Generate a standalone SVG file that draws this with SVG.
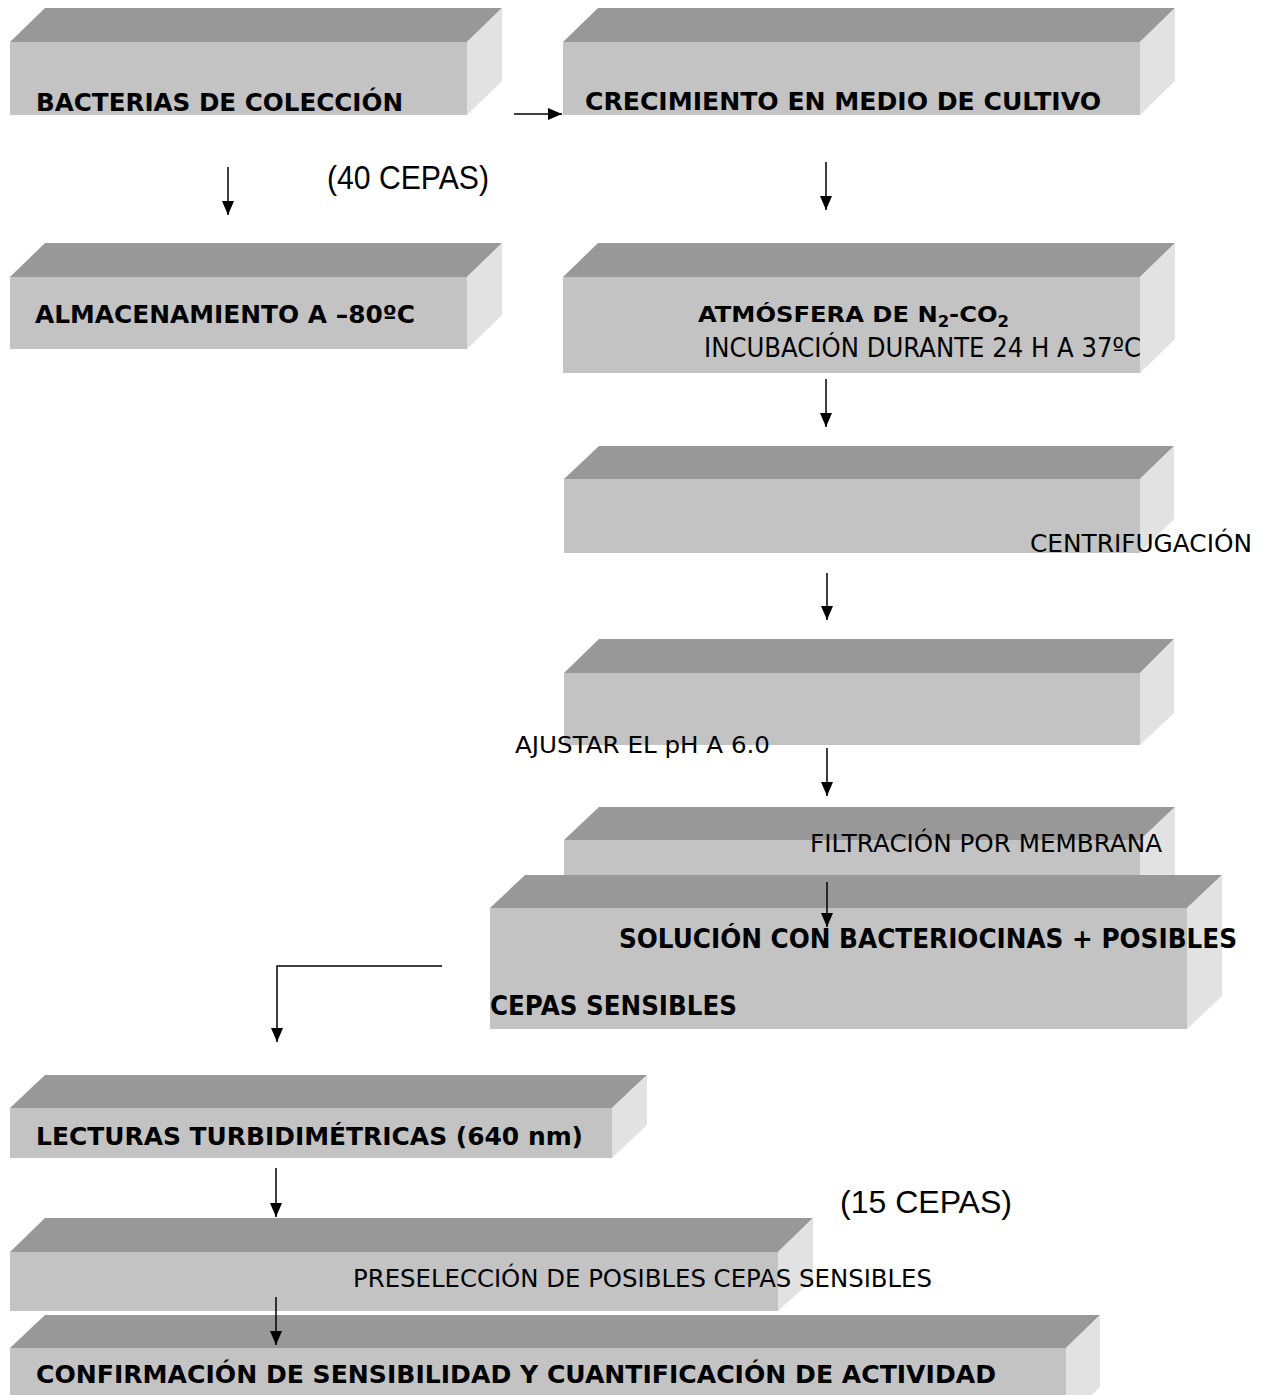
<svg xmlns="http://www.w3.org/2000/svg" width="1263" height="1395" viewBox="0 0 1263 1395">
<defs>
<style>
.top{fill:#989898}
.front{fill:#c3c3c3}
.side{fill:#e2e2e2}
.b{font-family:"DejaVu Sans","Liberation Sans",sans-serif;font-weight:bold;fill:#000}
.r{font-family:"DejaVu Sans","Liberation Sans",sans-serif;fill:#000}
.c{font-family:"Liberation Sans",Arial,sans-serif;fill:#000}
.ln{fill:none;stroke:#000;stroke-width:1.5}
</style>
<marker id="ah" viewBox="0 0 14 12" refX="14" refY="6" markerWidth="14" markerHeight="12" markerUnits="userSpaceOnUse" orient="auto">
<path d="M0,0 L14,6 L0,12 z" fill="#000"/>
</marker>
</defs>
<rect width="1263" height="1395" fill="#fff"/>

<g id="node-bacterias">
<polygon class="top" points="10,42 45,8 502,8 467,42"/>
<polygon class="front" points="10,42 467,42 467,115 10,115"/>
<polygon class="side" points="467,42 502,8 502,81 467,115"/>
<text class="b" x="36" y="111" font-size="24" textLength="367" lengthAdjust="spacingAndGlyphs">BACTERIAS DE COLECCIÓN</text>
</g>

<g id="node-crecimiento">
<polygon class="top" points="563,42 598,8 1175,8 1140,42"/>
<polygon class="front" points="563,42 1140,42 1140,115 563,115"/>
<polygon class="side" points="1140,42 1175,8 1175,81 1140,115"/>
<text class="b" x="585" y="110" font-size="24" textLength="516" lengthAdjust="spacingAndGlyphs">CRECIMIENTO EN MEDIO DE CULTIVO</text>
</g>

<g id="label-40">
<text class="c" x="327" y="189" font-size="34" textLength="162" lengthAdjust="spacingAndGlyphs">(40 CEPAS)</text>
</g>

<g id="node-almacenamiento">
<polygon class="top" points="10,277 45,243 502,243 467,277"/>
<polygon class="front" points="10,277 467,277 467,349 10,349"/>
<polygon class="side" points="467,277 502,243 502,315 467,349"/>
<text class="b" x="35" y="323" font-size="25" textLength="380" lengthAdjust="spacingAndGlyphs">ALMACENAMIENTO A –80ºC</text>
</g>

<g id="node-atmosfera">
<polygon class="top" points="563,277 598,243 1175,243 1140,277"/>
<polygon class="front" points="563,277 1140,277 1140,373 563,373"/>
<polygon class="side" points="1140,277 1175,243 1175,339 1140,373"/>
<text class="b" x="698" y="322" font-size="22" textLength="311" lengthAdjust="spacingAndGlyphs">ATMÓSFERA DE N<tspan font-size="15" dy="5">2</tspan><tspan dy="-5">-CO</tspan><tspan font-size="15" dy="5">2</tspan></text>
<text class="r" x="704" y="357" font-size="26" textLength="437" lengthAdjust="spacingAndGlyphs">INCUBACIÓN DURANTE 24 H A 37ºC</text>
</g>

<g id="node-centrifugacion">
<polygon class="top" points="564,479 599,446 1174,446 1140,479"/>
<polygon class="front" points="564,479 1140,479 1140,553 564,553"/>
<polygon class="side" points="1140,479 1174,446 1174,519 1140,553"/>
<text class="r" x="1030" y="552" font-size="24" textLength="222" lengthAdjust="spacingAndGlyphs">CENTRIFUGACIÓN</text>
</g>

<g id="node-ajustar">
<polygon class="top" points="564,673 599,639 1174,639 1140,673"/>
<polygon class="front" points="564,673 1140,673 1140,745 564,745"/>
<polygon class="side" points="1140,673 1174,639 1174,713 1140,745"/>
<text class="r" x="515" y="753" font-size="23" textLength="255" lengthAdjust="spacingAndGlyphs">AJUSTAR EL pH A 6.0</text>
</g>

<g id="node-filtracion">
<polygon class="top" points="564,840 599,807 1175,807 1140,840"/>
<polygon class="front" points="564,840 1140,840 1140,910 564,910"/>
<polygon class="side" points="1140,840 1175,807 1175,877 1140,910"/>
<text class="r" x="810" y="852" font-size="25" textLength="352" lengthAdjust="spacingAndGlyphs">FILTRACIÓN POR MEMBRANA</text>
</g>

<g id="node-solucion">
<polygon class="top" points="490,908 525,875 1222,875 1187,908"/>
<polygon class="front" points="490,908 1187,908 1187,1029 490,1029"/>
<polygon class="side" points="1187,908 1222,875 1222,996 1187,1029"/>
<text class="b" x="619" y="948" font-size="27" textLength="618" lengthAdjust="spacingAndGlyphs">SOLUCIÓN CON BACTERIOCINAS + POSIBLES</text>
<text class="b" x="490" y="1015" font-size="27" textLength="247" lengthAdjust="spacingAndGlyphs">CEPAS SENSIBLES</text>
</g>

<g id="node-lecturas">
<polygon class="top" points="10,1108 45,1075 647,1075 612,1108"/>
<polygon class="front" points="10,1108 612,1108 612,1158 10,1158"/>
<polygon class="side" points="612,1108 647,1075 647,1125 612,1158"/>
<text class="b" x="36" y="1145" font-size="24" textLength="547" lengthAdjust="spacingAndGlyphs">LECTURAS TURBIDIMÉTRICAS (640 nm)</text>
</g>

<g id="label-15">
<text class="c" x="840" y="1213" font-size="31" textLength="172" lengthAdjust="spacingAndGlyphs">(15 CEPAS)</text>
</g>

<g id="node-preseleccion">
<polygon class="top" points="10,1252 45,1218 813,1218 778,1252"/>
<polygon class="front" points="10,1252 778,1252 778,1311 10,1311"/>
<polygon class="side" points="778,1252 813,1218 813,1279 778,1311"/>
<text class="r" x="353" y="1287" font-size="24" textLength="579" lengthAdjust="spacingAndGlyphs">PRESELECCIÓN DE POSIBLES CEPAS SENSIBLES</text>
</g>

<g id="node-confirmacion">
<polygon class="top" points="10,1348 45,1315 1100,1315 1066,1348"/>
<polygon class="front" points="10,1348 1066,1348 1066,1420 10,1420"/>
<polygon class="side" points="1066,1348 1100,1315 1100,1387 1066,1420"/>
<text class="b" x="36" y="1383" font-size="25" textLength="960" lengthAdjust="spacingAndGlyphs">CONFIRMACIÓN DE SENSIBILIDAD Y CUANTIFICACIÓN DE ACTIVIDAD</text>
</g>

<g id="connectors">
<line class="ln" x1="514" y1="114" x2="562" y2="114" marker-end="url(#ah)"/>
<line class="ln" x1="228" y1="167" x2="228" y2="215" marker-end="url(#ah)"/>
<line class="ln" x1="826" y1="162" x2="826" y2="210" marker-end="url(#ah)"/>
<line class="ln" x1="826" y1="379" x2="826" y2="427" marker-end="url(#ah)"/>
<line class="ln" x1="827" y1="573" x2="827" y2="620" marker-end="url(#ah)"/>
<line class="ln" x1="827" y1="748" x2="827" y2="796" marker-end="url(#ah)"/>
<line class="ln" x1="827" y1="882" x2="827" y2="927" marker-end="url(#ah)"/>
<polyline class="ln" points="442,966 277,966 277,1042" marker-end="url(#ah)"/>
<line class="ln" x1="276" y1="1168" x2="276" y2="1217" marker-end="url(#ah)"/>
<line class="ln" x1="276" y1="1297" x2="276" y2="1345" marker-end="url(#ah)"/>
</g>
</svg>
